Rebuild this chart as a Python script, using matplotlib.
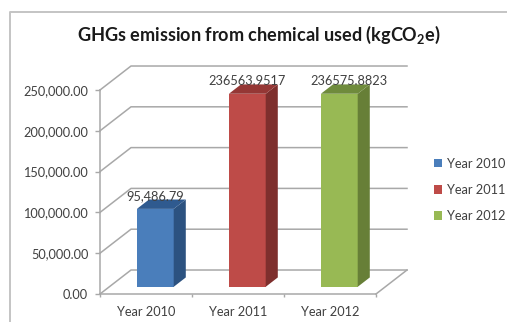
import matplotlib
matplotlib.use('Agg')
import matplotlib.pyplot as plt
from matplotlib.lines import Line2D
from matplotlib.patches import Patch, Polygon

categories = ['Year 2010', 'Year 2011', 'Year 2012']
values = [95486.79, 236563.9517, 236575.8823]
value_labels = ['95,486.79', '236563.9517', '236575.8823']
yticks = [0, 50000, 100000, 150000, 200000, 250000]
front_colors = ['#4a7ebb', '#be4b48', '#98b954']
side_colors = ['#2c5280', '#7e2f2d', '#677f37']
top_colors = ['#2f5a8f', '#953735', '#6f8b3c']
label_shift = [0, 0, 10]

plt.rcParams['font.family'] = ['Lato', 'DejaVu Sans']
plt.rcParams['mathtext.fontset'] = 'custom'
plt.rcParams['mathtext.rm'] = 'Lato:bold'
plt.rcParams['mathtext.default'] = 'rm'

W, H = 507, 322
text_col = '#404040'
grid_col = '#a8a8a8'
fs = 9.2

fig = plt.figure(figsize=(W / 100, H / 100), dpi=100)
ax = fig.add_axes([100 / W, 1 - 294 / H, 276 / W, 204 / H])
ax.set_xlim(0, 3)
ax.set_ylim(0, 250000)

# oblique depth of the fake 3D box, in data units
depth_x = 0.337
depth_y = 29400
bar_w = 0.40
near, far = 0.30, 0.69

# floor and back wall lines
for t in yticks:
    ax.plot([0, depth_x, 3 + depth_x], [t, t + depth_y, t + depth_y],
            color=grid_col, lw=1.1, clip_on=False, zorder=1)
ax.plot([3, 3 + depth_x], [0, depth_y], color=grid_col, lw=1.1, clip_on=False, zorder=1)

for i, v in enumerate(values):
    x0 = i + 0.5 - bar_w / 2 + near * depth_x
    x1 = x0 + bar_w
    y0 = near * depth_y
    dx = (far - near) * depth_x
    dy = (far - near) * depth_y
    ax.add_patch(Polygon([(x0, y0), (x1, y0), (x1, y0 + v), (x0, y0 + v)],
                         fc=front_colors[i], ec='none', clip_on=False, zorder=3))
    ax.add_patch(Polygon([(x1, y0), (x1 + dx, y0 + dy), (x1 + dx, y0 + dy + v), (x1, y0 + v)],
                         fc=side_colors[i], ec='none', clip_on=False, zorder=3))
    ax.add_patch(Polygon([(x0, y0 + v), (x1, y0 + v), (x1 + dx, y0 + dy + v), (x0 + dx, y0 + dy + v)],
                         fc=top_colors[i], ec='none', clip_on=False, zorder=3))
    ax.annotate(value_labels[i], (i + 0.5 + near * depth_x, y0 + v),
                xytext=(label_shift[i] * 0.72, 9.5), textcoords='offset points',
                ha='center', va='center', fontsize=fs, color=text_col,
                annotation_clip=False, zorder=5)

ax.set_xticks([0, 1, 2, 3])
ax.set_xticklabels([])
ax.set_yticks(yticks)
ax.set_yticklabels(['{:,.2f}'.format(t) for t in yticks], fontsize=fs, color=text_col)
ax.tick_params(axis='y', length=3.5, width=1, color=grid_col, pad=5)
ax.tick_params(axis='x', length=2, width=1, color=grid_col)
for i, c in enumerate(categories):
    ax.annotate(c, (i + 0.5, 0), xytext=(0, -13), textcoords='offset points',
                ha='center', va='center', fontsize=fs, color=text_col, annotation_clip=False)

for s in ['top', 'right']:
    ax.spines[s].set_visible(False)
for s in ['left', 'bottom']:
    ax.spines[s].set_color(grid_col)
    ax.spines[s].set_linewidth(1.1)
ax.patch.set_alpha(0)

fig.text(259 / W, 1 - 34.5 / H, 'GHGs emission from chemical used (kgCO$_{2}$e)',
         ha='center', va='center', fontsize=13.1, fontweight='bold', color='#1a1a1a')

handles = [Patch(fc=c, ec='none') for c in front_colors]
fig.legend(handles, categories, loc='center left', bbox_to_anchor=(434 / W, 1 - 190 / H),
           frameon=False, fontsize=fs, labelcolor=text_col, handlelength=0.6, handleheight=0.6,
           handletextpad=0.4, labelspacing=1.1, borderpad=0, borderaxespad=0)

# outer chart border, open on the right and bottom
fig.add_artist(Line2D([10 / W, 10 / W, 1], [0, 1 - 11.5 / H, 1 - 11.5 / H],
                      color='#c4c4c4', lw=1.4, transform=fig.transFigure))

fig.savefig('out.png', dpi=100)
